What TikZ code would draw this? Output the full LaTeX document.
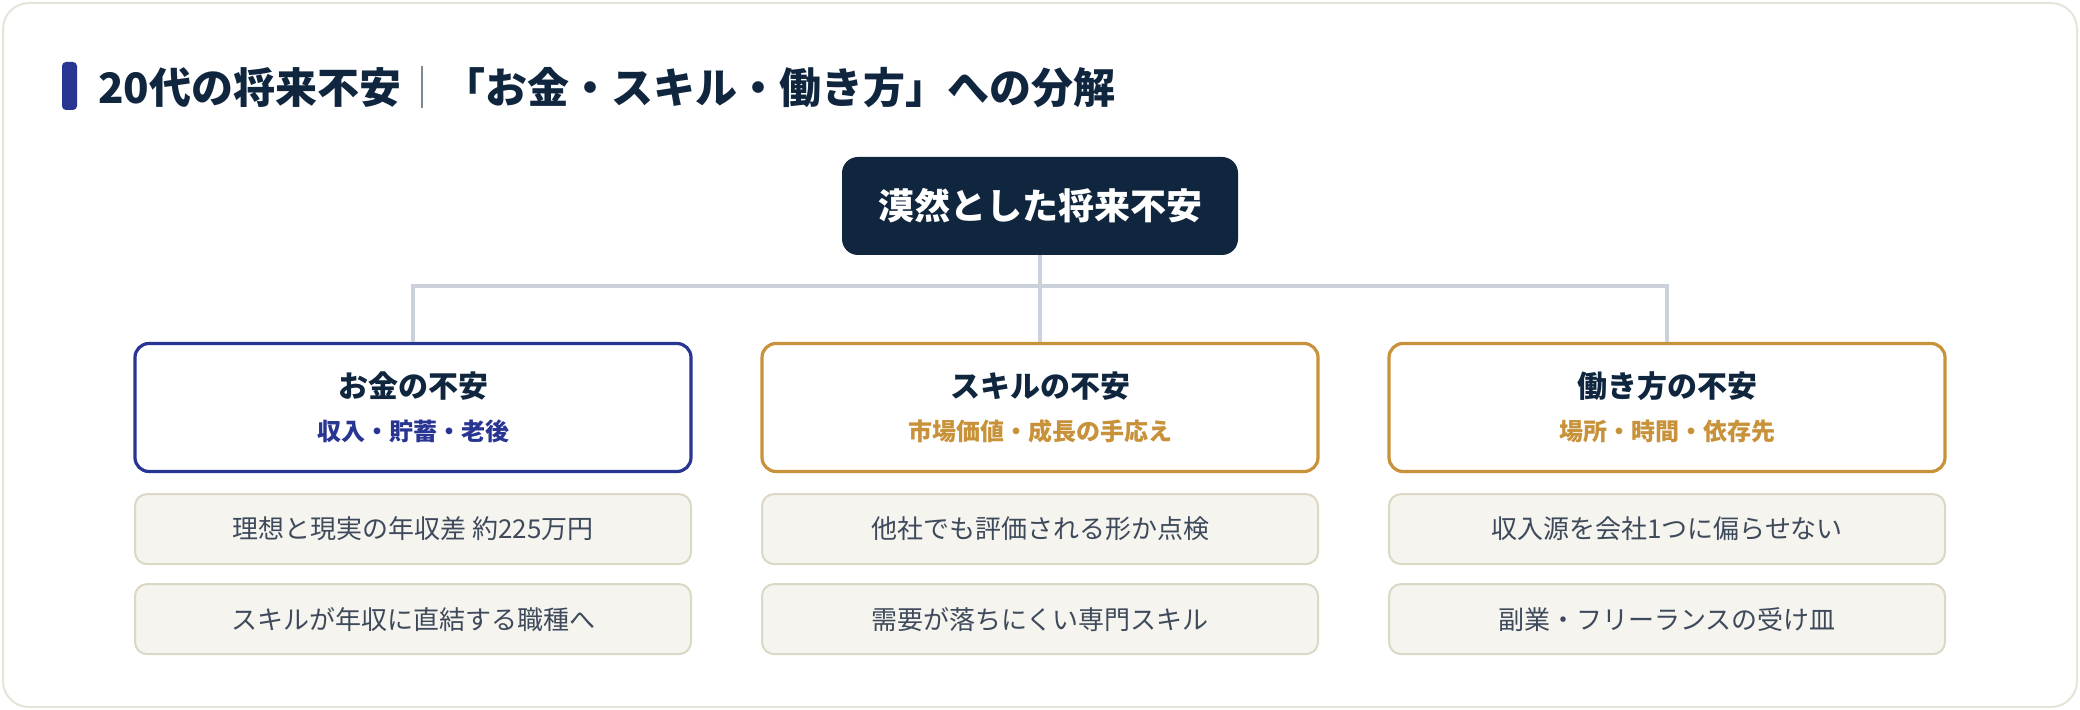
\documentclass[tikz,border=0pt]{standalone}
\usepackage{fontspec}
\setmainfont{Noto Sans CJK JP}
\newfontfamily\medfont{Noto Sans CJK JP}[UprightFont=* Medium]
\usetikzlibrary{positioning}

\definecolor{navy}{HTML}{10263F}
\definecolor{indigo}{HTML}{283593}
\definecolor{gold}{HTML}{C8923A}
\definecolor{linegray}{HTML}{CBD1DA}
\definecolor{itemfill}{HTML}{F5F4EE}
\definecolor{itemline}{HTML}{DCD8C6}
\definecolor{itemtext}{HTML}{3E4A5B}
\definecolor{framec}{HTML}{E6E4D9}
\definecolor{sepgray}{HTML}{6B7682}

\newcommand{\subline}[2]{{\medfont\fontsize{12pt}{14pt}\selectfont\color{#1}#2}}

\begin{document}
\begin{tikzpicture}[x=0.5pt, y=-0.5pt, node distance=10pt,
  rootbox/.style={fill=navy, text=white, rounded corners=8pt, minimum width=198pt, minimum height=49pt, font=\fontsize{18pt}{22pt}\selectfont\bfseries},
  catbox/.style={draw=#1, line width=1.6pt, fill=white, rounded corners=7pt, minimum width=278pt, minimum height=64pt, align=center, text=navy, font=\fontsize{15pt}{21.5pt}\selectfont\bfseries},
  itembox/.style={draw=itemline, line width=1pt, fill=itemfill, rounded corners=6pt, minimum width=278pt, minimum height=35pt, text=itemtext, font=\fontsize{13pt}{16pt}\selectfont},
  link/.style={draw=linegray, line width=1.6pt}]
\useasboundingbox (0,0) rectangle (2080,710);
\draw[framec, line width=1pt, fill=white, rounded corners=13pt] (3,3) rectangle (2077,707);

% heading
\fill[indigo, rounded corners=2pt] (62,62) rectangle (77,110);
\node[anchor=west, inner sep=0pt, text=navy, font=\fontsize{21pt}{26pt}\selectfont\bfseries] (title) at (98,88) {20代の将来不安{\color{sepgray}\mdseries ｜}「お金・スキル・働き方」への分解};

% tree
\node[rootbox] (root) at (1040,206) {漠然とした将来不安};
\node[catbox=indigo] (money) at (413,407.5) {お金の不安\\\subline{indigo}{収入・貯蓄・老後}};
\node[catbox=gold] (skill) at (1040,407.5) {スキルの不安\\\subline{gold}{市場価値・成長の手応え}};
\node[catbox=gold] (work) at (1667,407.5) {働き方の不安\\\subline{gold}{場所・時間・依存先}};

\node[itembox, below=of money] (money1) {理想と現実の年収差 約225万円};
\node[itembox, below=9pt of money1] (money2) {スキルが年収に直結する職種へ};
\node[itembox, below=of skill] (skill1) {他社でも評価される形か点検};
\node[itembox, below=9pt of skill1] (skill2) {需要が落ちにくい専門スキル};
\node[itembox, below=of work] (work1) {収入源を会社1つに偏らせない};
\node[itembox, below=9pt of work1] (work2) {副業・フリーランスの受け皿};

\coordinate (hub) at (1040,286);
\draw[link] (root) -- (skill);
\draw[link] (money.north) |- (hub) -| (work.north);
\end{tikzpicture}
\end{document}
